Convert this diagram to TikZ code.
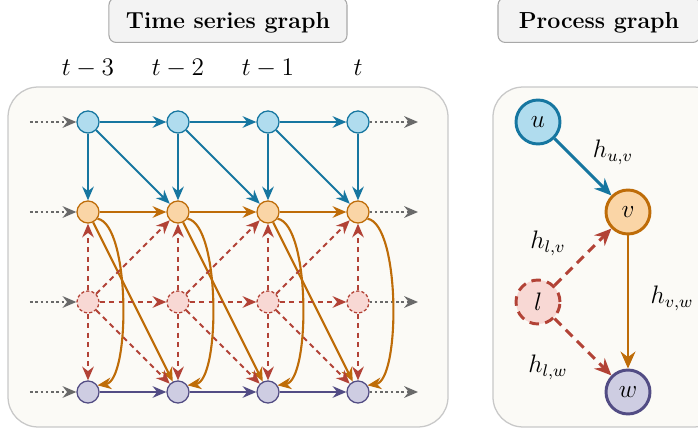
\documentclass[tikz,border=0pt]{standalone}
\usetikzlibrary{arrows.meta,positioning,calc}

\definecolor{ublue}{RGB}{22,118,160}
\definecolor{ubluefill}{RGB}{176,220,238}
\definecolor{vorange}{RGB}{190,108,8}
\definecolor{vorangefill}{RGB}{250,213,166}
\definecolor{lred}{RGB}{178,66,54}
\definecolor{lredfill}{RGB}{248,216,212}
\definecolor{wpurple}{RGB}{82,76,132}
\definecolor{wpurplefill}{RGB}{206,205,226}
\definecolor{boxfill}{RGB}{251,250,246}
\definecolor{boxline}{RGB}{200,200,200}
\definecolor{titlefill}{RGB}{243,243,243}
\definecolor{titleline}{RGB}{168,168,168}
\definecolor{dotgray}{RGB}{105,105,105}

\begin{document}
\begin{tikzpicture}[
  panel/.style={draw=boxline, fill=boxfill, rounded corners=0.5cm, line width=0.6pt},
  titlebox/.style={draw=titleline, fill=titlefill, rounded corners=0.12cm, line width=0.5pt,
    font=\fontsize{11}{13}\selectfont\bfseries, text height=11pt, text depth=3pt, inner ysep=3.6pt},
  tlabel/.style={font=\large},
  hlabel/.style={font=\large},
  tsnode/.style={circle, minimum size=0.367cm, inner sep=0pt, line width=0.6pt},
  un/.style={tsnode, draw=ublue, fill=ubluefill},
  vn/.style={tsnode, draw=vorange, fill=vorangefill},
  ln/.style={tsnode, draw=lred, fill=lredfill, dash pattern=on 1.5pt off 1pt},
  wn/.style={tsnode, draw=wpurple, fill=wpurplefill},
  tsarr/.style={-{Stealth[length=6.5pt,width=5.5pt]}, line width=1pt},
  lagdash/.style={dash pattern=on 2.5pt off 2pt},
  dotarr/.style={-{Stealth[length=6.5pt,width=5.5pt]}, dotgray, line width=1.2pt, dash pattern=on 1.2pt off 1.3pt},
  pn/.style={circle, minimum size=0.733cm, inner sep=0pt, line width=1.4pt, font=\large},
  parr/.style={-{Stealth[length=8pt,width=7pt]}, line width=1.4pt},
  pdash/.style={dash pattern=on 4.5pt off 3pt}
]
\clip (-1.4667,2.0333) rectangle (10.1667,-5.1333);

% Left: time series graph
\node[titlebox, anchor=south, minimum width=3.967cm] (tstitle) at (2.333,1.317) {Time series graph};
\draw[panel] (-1.333,0.583) rectangle (6.0,-5.083);
\foreach \i/\lab in {0/t-3, 1/t-2, 2/t-1, 3/t}
  \node[tlabel] (time\i) at (1.5*\i,0.9) {$\lab$};
\foreach \i in {0,...,3} {
  \node[un] (u\i) at (1.5*\i,0) {};
  \node[vn] (v\i) at (1.5*\i,-1.5) {};
  \node[ln] (l\i) at (1.5*\i,-3) {};
  \node[wn] (w\i) at (1.5*\i,-4.5) {};
}
% dotted: process continues before and after
\foreach \r in {u,v,l,w} {
  \coordinate (\r-in) at ($(\r0)+(-0.967,0)$);
  \coordinate (\r-out) at ($(\r3)+(1.0,0)$);
  \draw[dotarr] (\r-in) -- (\r0);
  \draw[dotarr] (\r3) -- (\r-out);
}
% lagged links
\foreach \i [count=\j] in {0,1,2} {
  \draw[tsarr, ublue] (u\i) -- (u\j);
  \draw[tsarr, ublue] (u\i) -- (v\j);
  \draw[tsarr, vorange] (v\i) -- (v\j);
  \draw[tsarr, vorange] (v\i) -- (w\j);
  \draw[tsarr, lred, lagdash] (l\i) -- (l\j);
  \draw[tsarr, lred, lagdash] (l\i) -- (v\j);
  \draw[tsarr, lred, lagdash] (l\i) -- (w\j);
  \draw[tsarr, wpurple] (w\i) -- (w\j);
}
% contemporaneous links
\foreach \i in {0,...,3} {
  \draw[tsarr, ublue] (u\i) -- (v\i);
  \draw[tsarr, lred, lagdash] (l\i) -- (v\i);
  \draw[tsarr, lred, lagdash] (l\i) -- (w\i);
  \draw[tsarr, vorange] (v\i.-35) .. controls +(0.55,-0.1) and +(0.55,0.08) .. (w\i.35);
}

% Right: process graph
\node[titlebox, anchor=south, minimum width=3.367cm] (pgtitle) at (8.517,1.317) {Process graph};
\draw[panel] (6.75,0.583) rectangle (10.6,-5.083);
\node[pn, draw=ublue, fill=ubluefill] (pu) at (7.5,0) {$u$};
\node[pn, draw=vorange, fill=vorangefill] (pv) at (9,-1.5) {$v$};
\node[pn, draw=lred, fill=lredfill, pdash] (pl) at (7.5,-3) {$l$};
\node[pn, draw=wpurple, fill=wpurplefill] (pw) at (9,-4.5) {$w$};
\draw[parr, ublue] (pu) -- (pv);
\draw[parr, lred, pdash] (pl) -- (pv);
\draw[parr, lred, pdash] (pl) -- (pw);
\draw[parr, vorange] (pv) -- (pw);
\node[hlabel] (huv) at (8.75,-0.5) {$h_{u,v}$};
\node[hlabel] (hlv) at (7.667,-2.017) {$h_{l,v}$};
\node[hlabel] (hvw) at (9.733,-2.933) {$h_{v,w}$};
\node[hlabel] (hlw) at (7.667,-4.083) {$h_{l,w}$};

\end{tikzpicture}
\end{document}
